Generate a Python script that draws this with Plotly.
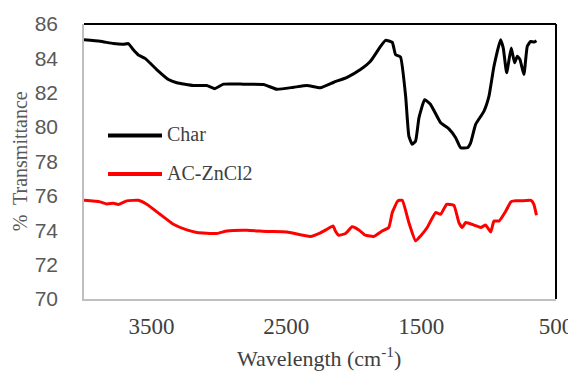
import plotly.graph_objects as go

char_wn = [4000, 3881, 3782, 3708, 3671, 3634, 3597, 3547, 3461, 3374, 3312, 3190, 3090, 3029, 2966,
           2818, 2668, 2569, 2445, 2346, 2247, 2148, 2049, 1950, 1876, 1801, 1764, 1714, 1690, 1653,
           1615, 1591, 1566, 1541, 1516, 1474, 1430, 1355, 1294, 1244, 1207, 1157, 1133, 1096, 1034,
           997, 960, 911, 891, 866, 832, 807, 787, 767, 738, 713, 688, 664, 645]
char_t = [85.09, 85.0, 84.86, 84.82, 84.86, 84.5, 84.2, 84.0, 83.35, 82.77, 82.58, 82.42, 82.42, 82.24, 82.5,
          82.5, 82.48, 82.2, 82.32, 82.42, 82.29, 82.61, 82.9, 83.35, 83.83, 84.7, 85.05, 84.93, 84.22, 84.08,
          81.8, 79.48, 79.0, 79.19, 80.55, 81.6, 81.32, 80.25, 79.9, 79.38, 78.8, 78.8, 79.09, 80.16, 80.93,
          81.8, 83.54, 85.09, 84.6, 83.16, 84.6, 83.74, 84.12, 83.93, 83.06, 84.7, 84.99, 84.95, 85.03]

ac_wn = [4000, 3881, 3831, 3782, 3745, 3683, 3597, 3535, 3436, 3337, 3238, 3163, 3015, 2941, 2791,
         2643, 2495, 2321, 2247, 2198, 2153, 2136, 2111, 2061, 2012, 1962, 1913, 1851, 1789, 1740,
         1714, 1673, 1640, 1591, 1541, 1504, 1455, 1393, 1355, 1311, 1257, 1220, 1195, 1170, 1108,
         1058, 1021, 984, 960, 922, 872, 835, 810, 761, 686, 664, 645]
ac_t = [75.74, 75.65, 75.53, 75.57, 75.5, 75.71, 75.74, 75.51, 74.93, 74.35, 74.02, 73.87, 73.81, 73.96, 74.0,
        73.93, 73.9, 73.64, 73.85, 74.06, 74.25, 73.96, 73.71, 73.81, 74.2, 74.02, 73.71, 73.64, 73.96, 74.16,
        75.03, 75.71, 75.74, 74.45, 73.38, 73.67, 74.16, 75.03, 74.93, 75.51, 75.45, 74.45, 74.16, 74.45, 74.3,
        74.16, 74.3, 73.9, 74.54, 74.54, 75.12, 75.65, 75.71, 75.71, 75.74, 75.51, 74.87]

series_names = ["Char", "AC-ZnCl2"]
series_colors = ["black", "#ff0000"]
x_ticks = [3500, 2500, 1500, 500]
y_ticks = [70, 72, 74, 76, 78, 80, 82, 84, 86]

serif = "Liberation Serif"
txt_col = "#404040"

fig = go.Figure()
for wn, t, name, col in zip([char_wn, ac_wn], [char_t, ac_t], series_names, series_colors):
    fig.add_trace(go.Scatter(x=wn, y=t, mode="lines", name=name, showlegend=False,
                             line=dict(color=col, width=3, shape="spline", smoothing=0.4)))

# the page body adds an 8px offset; margins compensate so the plot area sits at
# x 84..556, y 24..299 of the window
fig.update_layout(
    width=576, height=372,
    margin=dict(l=76, r=28, t=16, b=81),
    paper_bgcolor="white", plot_bgcolor="white",
    showlegend=False,
    xaxis=dict(range=[4000, 500], tickvals=x_ticks, ticktext=[str(v) for v in x_ticks],
               showgrid=False, zeroline=False, showline=True, linecolor="#bfbfbf", linewidth=1.5,
               ticks="", automargin=False,
               tickfont=dict(family=serif, size=23, color=txt_col), ticklabelstandoff=6),
    yaxis=dict(range=[70, 86], tickvals=y_ticks, showgrid=False, zeroline=False,
               showline=True, linecolor="#bfbfbf", linewidth=1.5, ticks="", automargin=False,
               tickfont=dict(family="Liberation Sans", size=21, color="#595959"),
               ticklabelstandoff=20),
)

# axis titles
fig.add_annotation(xref="paper", yref="paper", x=0.497, y=-0.212, xanchor="center", yanchor="middle",
                   text="Wavelength (cm<sup>-1</sup>)", showarrow=False,
                   font=dict(family=serif, size=22, color=txt_col))
fig.add_annotation(xref="paper", yref="paper", x=-0.136, y=0.5, xanchor="center", yanchor="middle",
                   text="%  Transmittance", textangle=-90, showarrow=False,
                   font=dict(family=serif, size=20, color="#595959"))

# frame: top and right in black
fig.add_shape(type="line", xref="paper", yref="paper", x0=0, x1=1, y0=1, y1=1,
              line=dict(color="black", width=2))
fig.add_shape(type="line", xref="paper", yref="paper", x0=1, x1=1, y0=0, y1=1,
              line=dict(color="black", width=2))

# legend (drawn manually, in paper coordinates)
leg_y = [(299 - 135.5) / 275, (299 - 174) / 275]
for yy, name, col in zip(leg_y, series_names, series_colors):
    fig.add_shape(type="line", xref="paper", yref="paper",
                  x0=(108 - 84) / 472, x1=(162 - 84) / 472, y0=yy, y1=yy,
                  line=dict(color=col, width=4))
    fig.add_annotation(xref="paper", yref="paper", x=(165 - 84) / 472, y=yy + 0.004,
                       xanchor="left", yanchor="middle", text=name, showarrow=False,
                       font=dict(family=serif, size=20, color=txt_col))

fig.write_html("out.html")
